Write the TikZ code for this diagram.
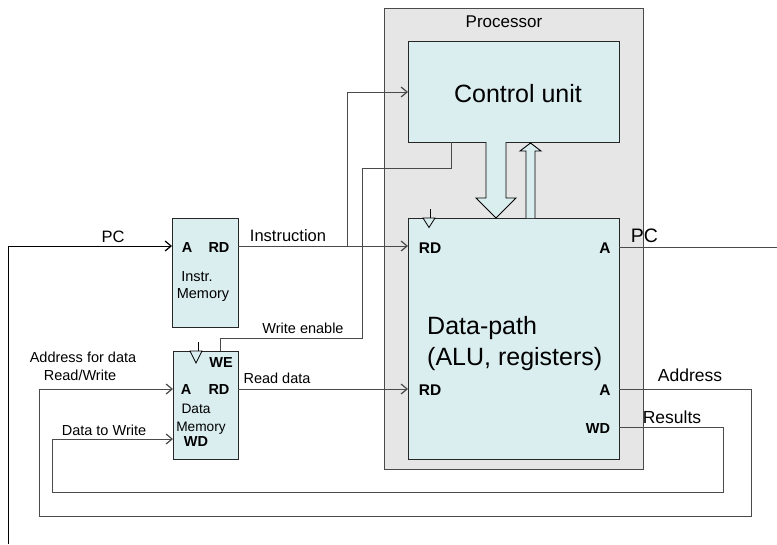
\documentclass[tikz,border=0pt]{standalone}
\usepackage{fontspec}
\setmainfont{Liberation Sans}
\usetikzlibrary{arrows.meta}
\definecolor{boxfill}{HTML}{DAEDEF}
\definecolor{procfill}{HTML}{E6E6E6}
\definecolor{wirecol}{HTML}{4A4A4A}
\begin{document}
\begin{tikzpicture}[x=1pt,y=-1pt,
  wire/.style={draw=wirecol, line width=0.9pt},
  arr/.style={-{Straight Barb[length=6pt,width=10pt,line width=1.2pt]}},
  lbl/.style={font=\fontsize{14.5}{16}\selectfont, inner sep=0pt, anchor=base},
  plbl/.style={font=\bfseries\fontsize{14.5}{16}\selectfont, inner sep=0pt, anchor=base},
  dlbl/.style={font=\bfseries\fontsize{15.5}{17}\selectfont, inner sep=0pt, anchor=base},
  big/.style={font=\fontsize{16.5}{18}\selectfont, inner sep=0pt, anchor=base},
  mid/.style={font=\fontsize{17.5}{19}\selectfont, inner sep=0pt, anchor=base},
  huge/.style={font=\fontsize{25}{28}\selectfont, inner sep=0pt, anchor=base},
  block/.style={draw=black!85, fill=boxfill, line width=0.9pt, rectangle, inner sep=0pt, anchor=north west},
  blockarrow/.style={draw=black, fill=boxfill, line width=0.9pt, line join=miter}]

\useasboundingbox (0,0) rectangle (777,544);

% boxes
\node[block, draw=wirecol, fill=procfill, minimum width=259pt, minimum height=461pt] (proc) at (384,8) {};
\node[block, minimum width=211pt, minimum height=101pt] (cu) at (408,41) {};
\node[block, minimum width=211pt, minimum height=241pt] (dp) at (408,218) {};
\node[block, minimum width=66pt, minimum height=109pt] (im) at (172,218) {};
\node[block, minimum width=65pt, minimum height=108pt] (dm) at (173,351) {};

% block arrows
\draw[blockarrow] (486,142) -- (486,198) -- (476,198) -- (496,218) -- (516,198) -- (506,198) -- (506,142);
\draw[blockarrow] (526,218) -- (526,151) -- (520,151) -- (530.5,143) -- (541,151) -- (535,151) -- (535,218);

% clock triangles
\coordinate (dpclk) at (430,209);
\coordinate (dmclk) at (198,342);
\draw[line width=0.8pt] (dpclk) -- (430,218);
\draw[line width=0.8pt, fill=boxfill] (423,218) -- (435,218) -- (429,227.5) -- cycle;
\draw[line width=0.8pt] (dmclk) -- (198,351);
\draw[line width=0.8pt, fill=boxfill] (190,351) -- (202,351) -- (196,363) -- cycle;

% coordinates
\coordinate (pcstart) at (8,544);
\coordinate (pcbend) at (8,246);
\coordinate (imA) at (172,246);
\coordinate (imRD) at (238,246);
\coordinate (dpRD1) at (408,246);
\coordinate (brI) at (347,246);
\coordinate (brItop) at (347,92);
\coordinate (cuIn) at (408,92);
\coordinate (weStart) at (451,142);
\coordinate (we1) at (451,168);
\coordinate (we2) at (362,168);
\coordinate (we3) at (362,338);
\coordinate (we4) at (220,338);
\coordinate (dmWE) at (220,351);
\coordinate (dmRD) at (238,389);
\coordinate (dpRD2) at (408,389);
\coordinate (dpA2) at (619,389);
\coordinate (ad1) at (751,389);
\coordinate (ad2) at (751,516);
\coordinate (ad3) at (39,516);
\coordinate (ad4) at (39,389);
\coordinate (dmA) at (173,389);
\coordinate (dpWD) at (619,427);
\coordinate (rs1) at (723,427);
\coordinate (rs2) at (723,492);
\coordinate (rs3) at (52,492);
\coordinate (rs4) at (52,439);
\coordinate (dmWD) at (173,439);
\coordinate (dpA1) at (619,247);
\coordinate (pcout) at (777,247);

% wires
\draw[wire, draw=black, arr] (pcstart) -- (pcbend) -- (imA);
\draw[wire, arr] (imRD) -- (dpRD1);
\draw[wire, arr] (brI) -- (brItop) -- (cuIn);
\draw[wire] (weStart) -- (we1) -- (we2) -- (we3) -- (we4) -- (dmWE);
\draw[wire, arr] (dmRD) -- (dpRD2);
\draw[wire, arr] (dpA2) -- (ad1) -- (ad2) -- (ad3) -- (ad4) -- (dmA);
\draw[wire, arr] (dpWD) -- (rs1) -- (rs2) -- (rs3) -- (rs4) -- (dmWD);
\draw[wire] (dpA1) -- (pcout);

% labels
\node[big] (tPC) at (113,242) {PC};
\node[big] (tInstr) at (288,241) {Instruction};
\node[plbl] (tImA) at (187,252) {A};
\node[plbl] (tImRD) at (219,252) {RD};
\node[lbl] (tIm1) at (197,281) {Instr.};
\node[lbl] (tIm2) at (203,298) {Memory};
\node[lbl] (tWE) at (303,333) {Write enable};
\node[plbl] (tDmWE) at (221,367) {WE};
\node[plbl] (tDmA) at (186,394) {A};
\node[plbl] (tDmRD) at (219,394) {RD};
\node[font=\fontsize{13.7}{15}\selectfont, inner sep=0pt, anchor=base] (tDm1) at (196,413) {Data};
\node[font=\fontsize{13.7}{15}\selectfont, inner sep=0pt, anchor=base] (tDm2) at (201,431) {Memory};
\node[plbl] (tDmWD) at (196,446) {WD};
\node[lbl] (tAfd1) at (83,362) {Address for data};
\node[lbl] (tAfd2) at (80,380) {Read/Write};
\node[lbl] (tDtw) at (104,435) {Data to Write};
\node[lbl] (tRd) at (277,383) {Read data};
\node[font=\fontsize{17}{19}\selectfont, inner sep=0pt, anchor=base] (tProc) at (504,27) {Processor};
\node[huge] (tCU) at (518,102) {Control unit};
\node[dlbl] (tDpRD1) at (430,253.5) {RD};
\node[dlbl] (tDpA1) at (605,253.5) {A};
\node[font=\fontsize{19.5}{21}\selectfont, inner sep=0pt, anchor=base] (tPC2) at (644.5,242) {PC};
\node[huge, anchor=base west] (tDp1) at (427,334) {Data-path};
\node[huge, anchor=base west] (tDp2) at (427,365) {(ALU, registers)};
\node[dlbl] (tDpRD2) at (430,395.5) {RD};
\node[dlbl] (tDpA2) at (605,395.5) {A};
\node[plbl] (tDpWD) at (598,433) {WD};
\node[mid] (tAddr) at (690,381) {Address};
\node[mid] (tRes) at (672,423) {Results};
\end{tikzpicture}
\end{document}
